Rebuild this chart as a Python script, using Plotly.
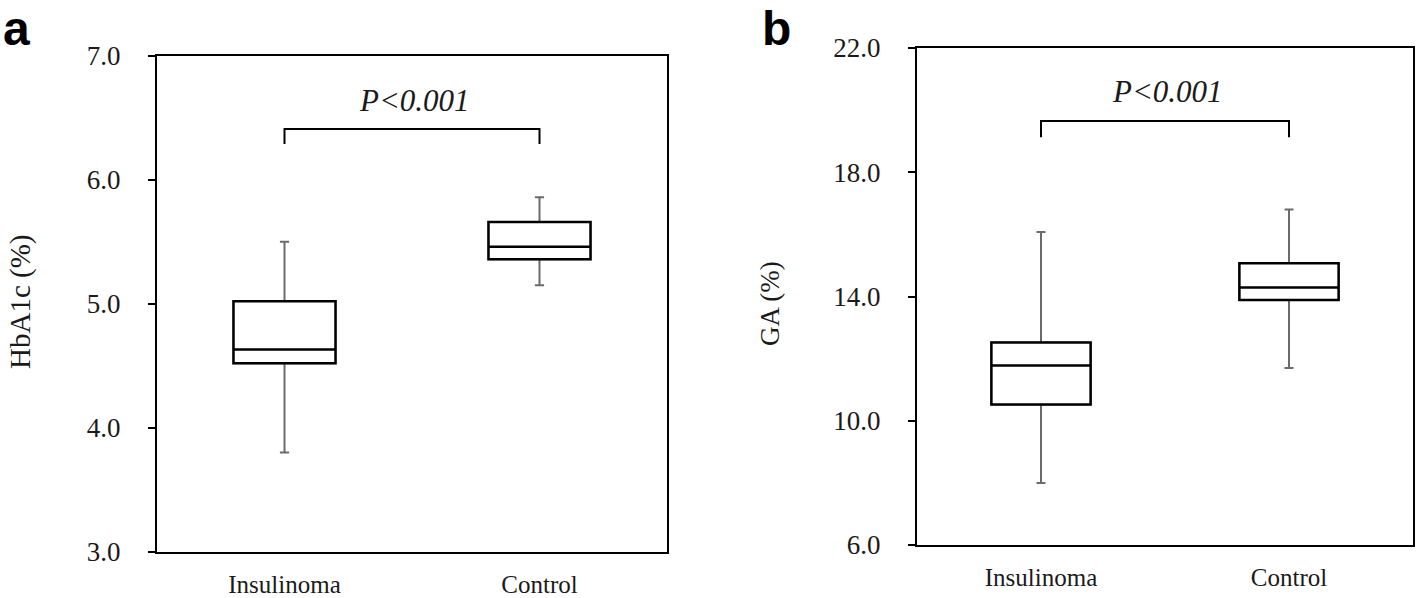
import plotly.graph_objects as go

# groups on the x axis
groups = ["Insulinoma", "Control"]

# panel a: HbA1c (%)
hba1c_low = [3.80, 5.15]
hba1c_q1 = [4.52, 5.36]
hba1c_med = [4.63, 5.46]
hba1c_q3 = [5.02, 5.66]
hba1c_high = [5.50, 5.86]

# panel b: GA (%)
ga_low = [8.0, 11.7]
ga_q1 = [10.52, 13.89]
ga_med = [11.78, 14.29]
ga_q3 = [12.52, 15.07]
ga_high = [16.08, 16.8]

# significance brackets (y of bar, y of the short drops, y of the label)
bracket_a = [6.41, 6.29, 6.64]
bracket_b = [19.65, 19.13, 20.6]
p_label = "<i>P&lt;0.001</i>"

SERIF = "Liberation Serif"
INK = "#1a1a1a"
WHISK = "#6b6b6b"
W, H = 1418, 598


def px_x(v):
    return v / W


def px_y(v):
    return 1 - v / H


fig = go.Figure()


def add_panel(low, q1, med, q3, high, xa, ya):
    # whiskers first (grey), box drawn on top of them in black
    fig.add_trace(go.Box(
        x=groups, q1=q1, median=med, q3=q3, lowerfence=low, upperfence=high,
        width=0.4, whiskerwidth=0.09, boxpoints=False,
        line=dict(color=WHISK, width=2), fillcolor="white",
        xaxis=xa, yaxis=ya, showlegend=False, hoverinfo="skip"))
    fig.add_trace(go.Box(
        x=groups, q1=q1, median=med, q3=q3, lowerfence=q1, upperfence=q3,
        width=0.4, whiskerwidth=0, boxpoints=False,
        line=dict(color="black", width=2.5), fillcolor="white",
        xaxis=xa, yaxis=ya, showlegend=False))


def add_bracket(b, xa, ya):
    fig.add_trace(go.Scatter(
        x=[groups[0], groups[0], groups[1], groups[1]],
        y=[b[1], b[0], b[0], b[1]],
        mode="lines", line=dict(color="black", width=2),
        xaxis=xa, yaxis=ya, showlegend=False, hoverinfo="skip"))
    fig.add_annotation(x=0.51, y=b[2], xref=xa, yref=ya, text=p_label,
                       showarrow=False, font=dict(family=SERIF, size=31, color=INK))


add_panel(hba1c_low, hba1c_q1, hba1c_med, hba1c_q3, hba1c_high, "x", "y")
add_panel(ga_low, ga_q1, ga_med, ga_q3, ga_high, "x2", "y2")
add_bracket(bracket_a, "x", "y")
add_bracket(bracket_b, "x2", "y2")

xcommon = dict(type="category", showline=True, mirror=True, linecolor="black", linewidth=2,
               ticks="", tickfont=dict(family=SERIF, size=25, color=INK), ticklabelstandoff=9,
               showgrid=False, zeroline=False, automargin=False, range=[-0.5, 1.5], fixedrange=True)
ycommon = dict(showline=True, mirror=True, linecolor="black", linewidth=2,
               ticks="outside", ticklen=7, tickwidth=2, tickcolor="black",
               tickfont=dict(family=SERIF, size=27, color=INK), tickformat=".1f",
               ticklabelstandoff=22, showgrid=False, zeroline=False, automargin=False)

fig.update_layout(
    width=W, height=H,
    margin=dict(l=0, r=0, t=0, b=0),
    paper_bgcolor="white", plot_bgcolor="white",
    boxmode="overlay",
    xaxis=dict(xcommon, domain=[px_x(157), px_x(667)], anchor="y"),
    yaxis=dict(ycommon, domain=[px_y(551.5), px_y(56)], range=[3, 7], tick0=3, dtick=1, anchor="x"),
    xaxis2=dict(xcommon, domain=[px_x(917), px_x(1413)], anchor="y2"),
    yaxis2=dict(ycommon, domain=[px_y(545), px_y(48)], range=[6, 22], tick0=6, dtick=4, anchor="x2"),
)

# y axis titles
fig.add_annotation(x=px_x(20), y=px_y(302), xref="paper", yref="paper", text="HbA1c (%)",
                   textangle=-90, xanchor="center", yanchor="middle", showarrow=False,
                   font=dict(family=SERIF, size=29, color=INK))
fig.add_annotation(x=px_x(770), y=px_y(304), xref="paper", yref="paper", text="GA (%)",
                   textangle=-90, xanchor="center", yanchor="middle", showarrow=False,
                   font=dict(family=SERIF, size=27, color=INK))

# panel letters
for letter, xp in [("a", 1), ("b", 760)]:
    fig.add_annotation(x=px_x(xp), y=1, xref="paper", yref="paper", text="<b>%s</b>" % letter,
                       xanchor="left", yanchor="top", showarrow=False,
                       font=dict(family="Liberation Sans", size=48, color="black"))

# drop the default page margin so the figure sits at the window's corner
fig.write_html("out.html", config={"displayModeBar": False},
               post_script="document.body.style.margin='0';")
